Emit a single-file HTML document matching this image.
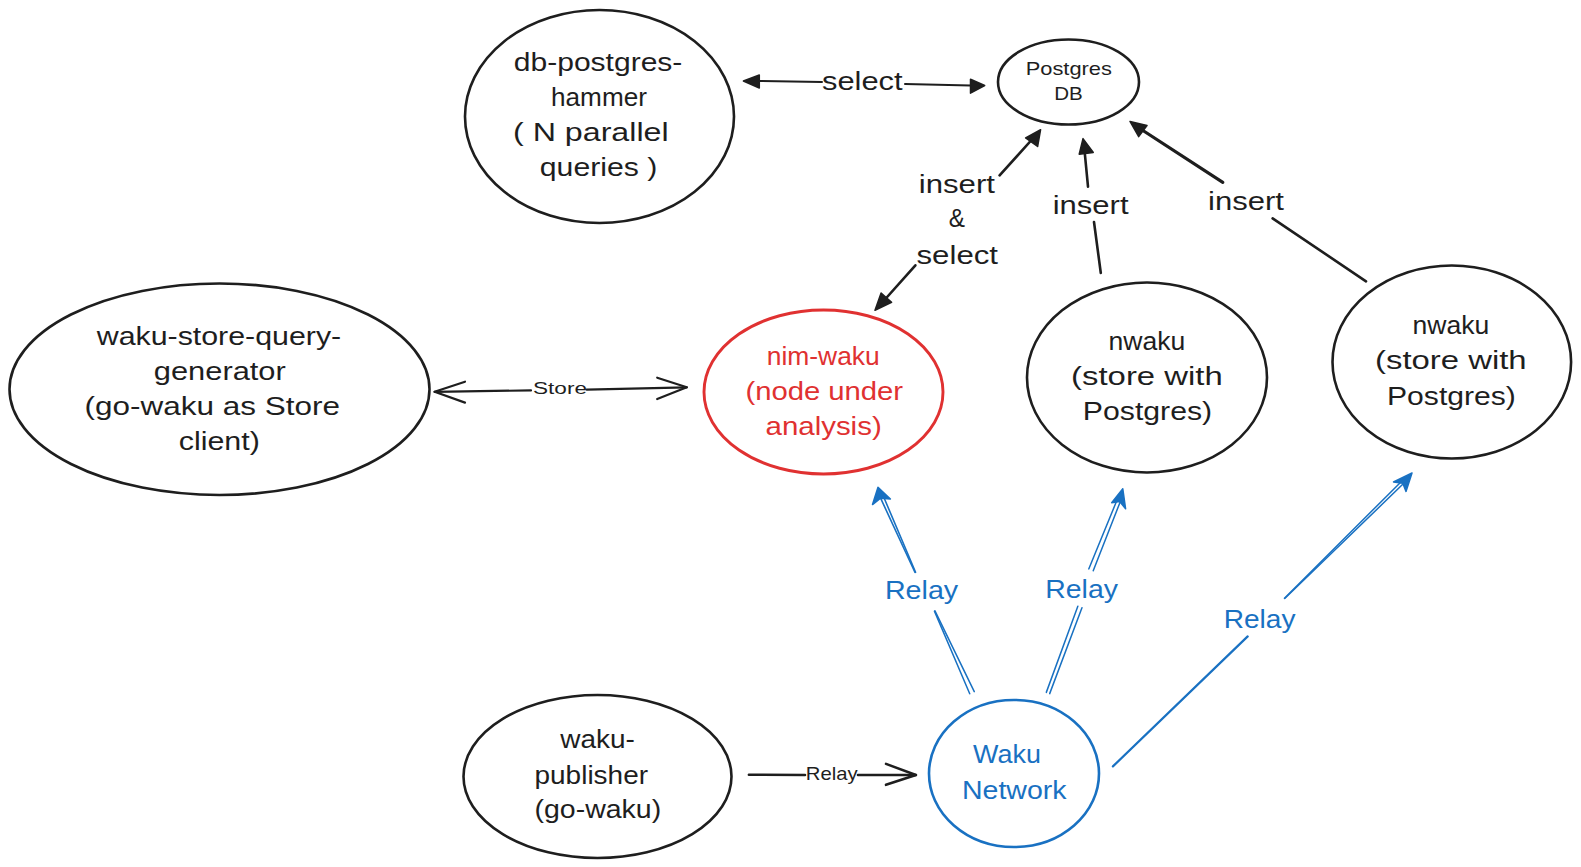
<!DOCTYPE html>
<html><head><meta charset="utf-8"><style>
html,body{margin:0;padding:0;background:#ffffff;width:1581px;height:867px;overflow:hidden}
svg{display:block}
text{font-family:"Liberation Sans",sans-serif}
</style></head><body>
<svg width="1581" height="867" viewBox="0 0 1581 867">
<rect width="1581" height="867" fill="#ffffff"/>
<ellipse cx="599.5" cy="116.5" rx="134.5" ry="106.5" fill="none" stroke="#1e1e1e" stroke-width="2.6"/>
<ellipse cx="1068.5" cy="82" rx="70.5" ry="42.5" fill="none" stroke="#1e1e1e" stroke-width="2.6"/>
<ellipse cx="219.5" cy="389.25" rx="210" ry="105.75" fill="none" stroke="#1e1e1e" stroke-width="2.6"/>
<ellipse cx="823.5" cy="392" rx="119.5" ry="82" fill="none" stroke="#e03131" stroke-width="2.9"/>
<ellipse cx="1147" cy="377.5" rx="120" ry="95" fill="none" stroke="#1e1e1e" stroke-width="2.6"/>
<ellipse cx="1451.8" cy="362" rx="119.3" ry="96.5" fill="none" stroke="#1e1e1e" stroke-width="2.6"/>
<ellipse cx="597.5" cy="776.5" rx="134" ry="81.5" fill="none" stroke="#1e1e1e" stroke-width="2.6"/>
<ellipse cx="1014" cy="773.5" rx="85" ry="73.5" fill="none" stroke="#1971c2" stroke-width="2.6"/>
<text transform="translate(513.80,71.10) scale(1.1555,1)" font-size="26" fill="#1e1e1e">db-postgres-</text>
<text transform="translate(551.00,105.70) scale(1.0063,1)" font-size="26" fill="#1e1e1e">hammer</text>
<text transform="translate(513.00,141.20) scale(1.2387,1)" font-size="26" fill="#1e1e1e">( N parallel</text>
<text transform="translate(539.80,175.80) scale(1.1621,1)" font-size="26" fill="#1e1e1e">queries )</text>
<text transform="translate(1025.70,75.00) scale(1.2141,1)" font-size="18" fill="#1e1e1e">Postgres</text>
<text transform="translate(1054.20,100.40) scale(1.1440,1)" font-size="18" fill="#1e1e1e">DB</text>
<text transform="translate(96.72,345.00) scale(1.1670,1)" font-size="26" fill="#1e1e1e">waku-store-query-</text>
<text transform="translate(153.80,380.10) scale(1.1860,1)" font-size="26" fill="#1e1e1e">generator</text>
<text transform="translate(84.60,415.20) scale(1.2114,1)" font-size="26" fill="#1e1e1e">(go-waku as Store</text>
<text transform="translate(178.70,450.30) scale(1.1715,1)" font-size="26" fill="#1e1e1e">client)</text>
<text transform="translate(766.80,364.80) scale(1.0153,1)" font-size="26" fill="#e03131">nim-waku</text>
<text transform="translate(745.40,400.10) scale(1.1255,1)" font-size="26" fill="#e03131">(node under</text>
<text transform="translate(765.50,434.70) scale(1.1335,1)" font-size="26" fill="#e03131">analysis)</text>
<text transform="translate(1108.50,349.80) scale(1.0213,1)" font-size="26" fill="#1e1e1e">nwaku</text>
<text transform="translate(1071.10,385.10) scale(1.2644,1)" font-size="26" fill="#1e1e1e">(store with</text>
<text transform="translate(1082.80,420.40) scale(1.1635,1)" font-size="26" fill="#1e1e1e">Postgres)</text>
<text transform="translate(1412.50,334.10) scale(1.0213,1)" font-size="26" fill="#1e1e1e">nwaku</text>
<text transform="translate(1375.00,369.40) scale(1.2652,1)" font-size="26" fill="#1e1e1e">(store with</text>
<text transform="translate(1387.00,404.70) scale(1.1590,1)" font-size="26" fill="#1e1e1e">Postgres)</text>
<text transform="translate(560.21,747.70) scale(1.0763,1)" font-size="26" fill="#1e1e1e">waku-</text>
<text transform="translate(534.50,783.70) scale(1.0758,1)" font-size="26" fill="#1e1e1e">publisher</text>
<text transform="translate(534.50,817.60) scale(1.0960,1)" font-size="26" fill="#1e1e1e">(go-waku)</text>
<text transform="translate(973.10,762.80) scale(1.0351,1)" font-size="26" fill="#1971c2">Waku</text>
<text transform="translate(962.00,798.70) scale(1.0963,1)" font-size="26" fill="#1971c2">Network</text>
<text transform="translate(822.00,90.20) scale(1.1870,1)" font-size="26" fill="#1e1e1e">select</text>
<text transform="translate(918.80,192.70) scale(1.1981,1)" font-size="26" fill="#1e1e1e">insert</text>
<text transform="translate(948.80,227.30) scale(0.9364,1)" font-size="26" fill="#1e1e1e">&amp;</text>
<text transform="translate(916.50,264.00) scale(1.2003,1)" font-size="26" fill="#1e1e1e">select</text>
<text transform="translate(1052.70,214.00) scale(1.1934,1)" font-size="26" fill="#1e1e1e">insert</text>
<text transform="translate(1208.00,209.70) scale(1.1950,1)" font-size="26" fill="#1e1e1e">insert</text>
<text transform="translate(533.00,394.30) scale(1.3300,1)" font-size="17" fill="#1e1e1e">Store</text>
<text transform="translate(805.80,779.70) scale(1.1283,1)" font-size="18" fill="#1e1e1e">Relay</text>
<text transform="translate(884.90,598.70) scale(1.1023,1)" font-size="26" fill="#1971c2">Relay</text>
<text transform="translate(1045.20,597.50) scale(1.0947,1)" font-size="26" fill="#1971c2">Relay</text>
<text transform="translate(1223.70,628.00) scale(1.0812,1)" font-size="26" fill="#1971c2">Relay</text>
<path d="M759,81 L822,82" fill="none" stroke="#1e1e1e" stroke-width="2" stroke-linecap="round" stroke-linejoin="round"/>
<path d="M905,84 L970.5,85.5" fill="none" stroke="#1e1e1e" stroke-width="2" stroke-linecap="round" stroke-linejoin="round"/>
<path d="M743.4,81 L759.3,75 L759.3,88Z" fill="#1e1e1e" stroke="#1e1e1e" stroke-width="1.5" stroke-linejoin="round"/>
<path d="M984.7,85.5 L970.5,79.3 L970.5,93.2Z" fill="#1e1e1e" stroke="#1e1e1e" stroke-width="1.5" stroke-linejoin="round"/>
<path d="M999.6,175.4 L1036,135" fill="none" stroke="#1e1e1e" stroke-width="2.6" stroke-linecap="round" stroke-linejoin="round"/>
<path d="M1040.6,129.7 L1025.6,138 L1037.6,146.5Z" fill="#1e1e1e" stroke="#1e1e1e" stroke-width="1.5" stroke-linejoin="round"/>
<path d="M915.4,265.3 L880,305" fill="none" stroke="#1e1e1e" stroke-width="2.6" stroke-linecap="round" stroke-linejoin="round"/>
<path d="M875,310.3 L881.1,293.0 L891.6,302.3Z" fill="#1e1e1e" stroke="#1e1e1e" stroke-width="1.5" stroke-linejoin="round"/>
<path d="M1088,186.7 L1084,145" fill="none" stroke="#1e1e1e" stroke-width="2.6" stroke-linecap="round" stroke-linejoin="round"/>
<path d="M1083,138.6 L1079.2,154.3 L1093.3,152.4Z" fill="#1e1e1e" stroke="#1e1e1e" stroke-width="1.5" stroke-linejoin="round"/>
<path d="M1094,222 L1100.8,273" fill="none" stroke="#1e1e1e" stroke-width="2.6" stroke-linecap="round" stroke-linejoin="round"/>
<path d="M1222.8,182.3 L1136,126" fill="none" stroke="#1e1e1e" stroke-width="3.2" stroke-linecap="round" stroke-linejoin="round"/>
<path d="M1130,121.4 L1147,125.6 L1138.7,136.6Z" fill="#1e1e1e" stroke="#1e1e1e" stroke-width="1.5" stroke-linejoin="round"/>
<path d="M1272.6,218.4 L1366,281.3" fill="none" stroke="#1e1e1e" stroke-width="2.6" stroke-linecap="round" stroke-linejoin="round"/>
<path d="M465,381.7 L434.6,391.8 L465,402.6" fill="none" stroke="#1e1e1e" stroke-width="2.2" stroke-linecap="round" stroke-linejoin="round"/>
<path d="M434.6,391.8 L531,390.4" fill="none" stroke="#1e1e1e" stroke-width="2.2" stroke-linecap="round" stroke-linejoin="round"/>
<path d="M586.8,389.6 L686.8,387.3" fill="none" stroke="#1e1e1e" stroke-width="2.2" stroke-linecap="round" stroke-linejoin="round"/>
<path d="M657.2,377.7 L686.8,387.3 L657.2,399.1" fill="none" stroke="#1e1e1e" stroke-width="2.2" stroke-linecap="round" stroke-linejoin="round"/>
<path d="M748.9,774.7 L805,775" fill="none" stroke="#1e1e1e" stroke-width="2.6" stroke-linecap="round" stroke-linejoin="round"/>
<path d="M858,775 L915.9,775" fill="none" stroke="#1e1e1e" stroke-width="2.6" stroke-linecap="round" stroke-linejoin="round"/>
<path d="M886,763.9 L915.9,775 L886,784.8" fill="none" stroke="#1e1e1e" stroke-width="2.6" stroke-linecap="round" stroke-linejoin="round"/>
<path d="M878,487.2 L872.5,504.6 L880.59,498.15 L890.4,499Z" fill="#1971c2" stroke="#1971c2" stroke-width="1.5" stroke-linejoin="round"/>
<path d="M879.45,495.69 L915.03,572.52" fill="none" stroke="#1971c2" stroke-width="1.6" stroke-linecap="round" stroke-linejoin="round"/><path d="M882.55,494.31 L915.57,572.28" fill="none" stroke="#1971c2" stroke-width="1.6" stroke-linecap="round" stroke-linejoin="round"/>
<path d="M934.43,611.12 L969.73,693.74" fill="none" stroke="#1971c2" stroke-width="1.5" stroke-linecap="round" stroke-linejoin="round"/><path d="M934.97,610.88 L974.27,691.66" fill="none" stroke="#1971c2" stroke-width="1.5" stroke-linecap="round" stroke-linejoin="round"/>
<path d="M1122.8,488.8 L1111.7,502.7 L1119.69,501.51 L1125.6,508.8Z" fill="#1971c2" stroke="#1971c2" stroke-width="1.5" stroke-linejoin="round"/>
<path d="M1117.33,499.33 L1088.77,568.91" fill="none" stroke="#1971c2" stroke-width="1.5" stroke-linecap="round" stroke-linejoin="round"/><path d="M1120.67,500.67 L1093.23,570.69" fill="none" stroke="#1971c2" stroke-width="1.5" stroke-linecap="round" stroke-linejoin="round"/>
<path d="M1077.84,606.23 L1046.31,692.37" fill="none" stroke="#1971c2" stroke-width="1.5" stroke-linecap="round" stroke-linejoin="round"/><path d="M1081.96,607.77 L1049.69,693.63" fill="none" stroke="#1971c2" stroke-width="1.5" stroke-linecap="round" stroke-linejoin="round"/>
<path d="M1412,472.9 L1393.5,482 L1402.81,483.25 L1406,491.4Z" fill="#1971c2" stroke="#1971c2" stroke-width="1.5" stroke-linejoin="round"/>
<path d="M1401.95,480.93 L1284.46,598.26" fill="none" stroke="#1971c2" stroke-width="1.5" stroke-linecap="round" stroke-linejoin="round"/><path d="M1404.05,483.07 L1284.74,598.54" fill="none" stroke="#1971c2" stroke-width="1.5" stroke-linecap="round" stroke-linejoin="round"/>
<path d="M1247.7,636.4 L1112.9,766.4" fill="none" stroke="#1971c2" stroke-width="2.2" stroke-linecap="round" stroke-linejoin="round"/>
</svg>
</body></html>
